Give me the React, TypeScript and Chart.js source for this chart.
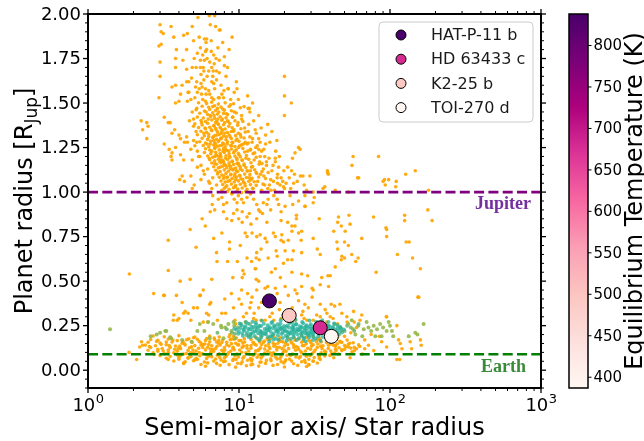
import { useEffect, useRef } from 'react';
import { Chart, registerables } from 'chart.js';

Chart.register(...registerables);

type Pt = [number, number];

// ---- axis setup ----
const xTickValues = [1, 10, 100, 1000];
const xTickExponents = ['0', '1', '2', '3'];
const yTickValues = [0, 0.25, 0.5, 0.75, 1.0, 1.25, 1.5, 1.75, 2.0];
const yTickLabels = ['0.00', '0.25', '0.50', '0.75', '1.00', '1.25', '1.50', '1.75', '2.00'];
const cbarTicks = [400, 450, 500, 550, 600, 650, 700, 750, 800];

// ---- reference radii (R_Jup) ----
const jupiterRadius = 1.0;
const earthRadius = 0.0892;

// ---- highlighted planets ----
const planetNames = ['HAT-P-11 b', 'HD 63433 c', 'K2-25 b', 'TOI-270 d'];
const planetA = [15.9, 34.5, 21.5, 40.9];
const planetR = [0.389, 0.238, 0.307, 0.19];
const planetTeq = [838, 680, 494, 387];
const teqMin = 387;
const teqMax = 838;

// ---- known exoplanets: [a / R*, R (R_Jup)] ----
const giantsUpper: Pt[] = [
  [3.0,1.94],[3.55,1.93],[4.9,1.93],[5.35,1.98],[6.35,1.99],[6.9,1.99],[6.45,1.94],[7.0,1.93],[7.5,1.91],[3.05,1.90],
  [3.15,1.89],[4.55,1.89],[4.3,1.88],[3.7,1.87],[5.45,1.87],[5.9,1.86],[6.1,1.86],[6.55,1.85],[6.05,1.84],[9.0,1.87],
  [2.95,1.82],[3.05,1.83],[3.85,1.80],[4.5,1.80],[5.55,1.81],[7.25,1.81],[6.1,1.80],[6.0,1.79],[5.75,1.77],[6.8,1.77],
  [8.0,1.76],[3.8,1.75],[4.25,1.74],[5.05,1.75],[5.55,1.74],[5.9,1.74],[6.15,1.75],[7.05,1.75],[7.4,1.74],[6.4,1.73],
  [6.85,1.72],[3.0,1.73],[3.8,1.70],[4.5,1.69],[4.9,1.70],[5.2,1.70],[5.55,1.70],[5.8,1.70],[5.85,1.68],[6.6,1.70],
  [6.75,1.68],[7.1,1.68],[7.4,1.67],[8.0,1.71],[8.4,1.70],[3.0,1.65],[4.85,1.64],[4.5,1.62],[4.65,1.62],[5.25,1.62],
  [5.6,1.61],[5.85,1.63],[6.15,1.65],[6.7,1.65],[6.6,1.62],[6.8,1.61],[3.8,1.60],[3.6,1.59],[4.2,1.60],[5.15,1.59],
  [5.45,1.58],[5.7,1.59],[6.0,1.58],[6.9,1.58],[7.95,1.57],[8.45,1.58],[4.65,1.56],[5.3,1.56],[5.65,1.55],[6.05,1.55],
  [6.4,1.55],[7.3,1.53],[2.95,1.53],[4.55,1.51],[4.8,1.52],[5.75,1.52],[6.0,1.51],[6.8,1.52],[7.4,1.53],[3.8,1.50],
  [7.4,1.91],[9.6,1.62],[9.7,1.58],[11.4,1.54],[11.7,1.47],[20.0,1.65],[20.0,1.54],[20.0,1.43],[22.2,1.50],[8.5,1.58],
  [10.4,1.43],[11.5,1.47],[5.1,1.53],[6.3,1.57],[7.7,1.55],[4.1,1.55],[6.55,1.79],[5.0,1.85],
  [6.6,1.53],[7.6,1.60],[8.2,1.65],[7.1,1.63],[6.3,1.68],[8.8,1.52],[9.3,1.56],[7.9,1.53],[5.6,1.66],[5.3,1.78],
  [8.6,1.80],[7.8,1.84],[4.6,1.56],
];

const giantsCore: Pt[] = [
  [5.4,1.502],[6.1,1.497],[6.6,1.505],[7.3,1.494],[8.1,1.501],[9.2,1.496],
  [5.7,1.482],[6.3,1.476],[6.9,1.485],[7.6,1.478],[8.6,1.481],[10.2,1.474],
  [5.2,1.462],[5.9,1.455],[6.4,1.464],[7.0,1.458],[7.8,1.466],[8.9,1.457],
  [5.5,1.443],[6.2,1.436],[6.7,1.445],[7.2,1.438],[7.9,1.442],[8.4,1.435],[9.6,1.444],
  [5.3,1.421],[5.8,1.416],[6.5,1.424],[6.9,1.414],[7.5,1.423],[8.2,1.417],[9.1,1.422],
  [5.6,1.402],[6.0,1.396],[6.6,1.405],[7.1,1.398],[7.7,1.404],[8.5,1.395],[9.4,1.401],[10.6,1.397],
  [5.1,1.383],[5.7,1.377],[6.2,1.386],[6.8,1.374],[7.3,1.382],[7.9,1.378],[8.7,1.385],[9.8,1.376],
  [5.4,1.362],[6.0,1.355],[6.4,1.364],[7.0,1.357],[7.5,1.363],[8.1,1.354],[9.0,1.361],[10.3,1.356],
  [5.6,1.342],[6.1,1.336],[6.6,1.345],[7.2,1.338],[7.7,1.343],[8.4,1.335],[9.2,1.341],[11.0,1.337],
  [5.3,1.322],[5.9,1.316],[6.3,1.325],[6.9,1.318],[7.4,1.323],[7.9,1.314],[8.6,1.321],[9.5,1.317],[10.2,1.324],
  [5.7,1.302],[6.2,1.296],[6.7,1.305],[7.1,1.297],[7.6,1.303],[8.2,1.294],[8.9,1.301],[9.7,1.298],[10.8,1.304],
  [5.5,1.283],[6.0,1.276],[6.5,1.285],[6.9,1.277],[7.3,1.284],[7.8,1.275],[8.4,1.282],[9.1,1.278],[10.0,1.285],[11.5,1.276],
  [5.8,1.262],[6.3,1.255],[6.8,1.264],[7.2,1.257],[7.7,1.263],[8.1,1.254],[8.8,1.261],[9.4,1.256],[10.4,1.265],
  [6.0,1.243],[6.4,1.236],[6.9,1.245],[7.4,1.237],[7.9,1.244],[8.3,1.235],[8.9,1.242],[9.6,1.238],[10.6,1.245],[11.9,1.236],
  [5.9,1.222],[6.5,1.216],[7.0,1.224],[7.5,1.217],[8.0,1.223],[8.6,1.215],[9.2,1.221],[9.9,1.218],[10.9,1.225],[12.4,1.216],
  [6.2,1.203],[6.7,1.196],[7.1,1.205],[7.6,1.197],[8.2,1.204],[8.7,1.195],[9.4,1.202],[10.2,1.198],[11.2,1.205],[13.0,1.196],
  [6.4,1.182],[6.9,1.176],[7.3,1.185],[7.8,1.177],[8.4,1.183],[9.0,1.175],[9.7,1.181],[10.5,1.178],[11.6,1.184],
  [6.6,1.163],[7.1,1.156],[7.6,1.165],[8.0,1.157],[8.6,1.164],[9.2,1.155],[9.9,1.162],[10.8,1.158],[12.0,1.165],[13.6,1.156],
  [6.8,1.142],[7.3,1.136],[7.8,1.145],[8.3,1.137],[8.8,1.143],[9.5,1.135],[10.2,1.141],[11.1,1.138],[12.3,1.144],
  [7.0,1.123],[7.5,1.116],[8.0,1.125],[8.5,1.117],[9.1,1.124],[9.8,1.115],[10.5,1.122],[11.4,1.118],[12.7,1.125],[14.2,1.116],
  [7.2,1.102],[7.7,1.096],[8.2,1.105],[8.8,1.097],[9.4,1.103],[10.1,1.095],[10.9,1.101],[11.8,1.098],[13.1,1.104],
  [7.4,1.083],[7.9,1.076],[8.4,1.085],[9.0,1.077],[9.6,1.084],[10.3,1.075],[11.2,1.082],[12.2,1.078],[13.5,1.085],[15.0,1.076],
  [7.6,1.062],[8.1,1.056],[8.7,1.065],[9.3,1.057],[9.9,1.063],[10.7,1.055],[11.6,1.061],[12.6,1.058],
  [7.8,1.043],[8.3,1.036],[8.9,1.045],[9.5,1.037],[10.2,1.044],[11.0,1.035],[11.9,1.042],[13.0,1.038],[14.4,1.045],
  [8.0,1.022],[8.6,1.016],[9.2,1.025],[9.8,1.017],[10.5,1.023],[11.3,1.015],[12.3,1.021],
  [8.4,1.003],[9.0,0.996],[9.7,1.005],[10.4,0.997],[11.1,1.004],[12.0,0.995],
  [6.75,1.31],[7.35,1.29],[7.95,1.27],[6.95,1.25],[7.55,1.21],[8.15,1.19],[7.05,1.35],[7.65,1.33],[8.25,1.31],[6.45,1.27],
  [8.55,1.23],[9.05,1.17],[8.75,1.13],[7.45,1.17],[9.35,1.09],[8.05,1.39],[6.85,1.43],[7.25,1.41],[10.0,1.15],[10.6,1.07],
  [9.65,1.19],[9.95,1.25],[12.2,1.28],[13.2,1.26],[11.8,1.31],[12.6,1.18],[14.5,1.13],[13.9,1.10],[15.5,1.02],[11.3,1.27],
];

const giantsFill: Pt[] = [
  [5.25,1.47],[5.65,1.39],[5.85,1.33],[6.05,1.45],[6.15,1.27],[6.25,1.41],[6.35,1.19],[6.55,1.35],[6.6,1.23],[6.7,1.48],
  [6.8,1.29],[6.9,1.16],[7.0,1.39],[7.05,1.21],[7.15,1.32],[7.25,1.11],[7.35,1.45],[7.45,1.26],[7.5,1.14],[7.55,1.36],
  [7.65,1.18],[7.75,1.41],[7.85,1.23],[7.95,1.09],[8.05,1.33],[8.15,1.15],[8.25,1.44],[8.35,1.27],[8.45,1.06],[8.55,1.37],
  [8.65,1.2],[8.75,1.31],[8.85,1.1],[8.95,1.26],[9.05,1.42],[9.15,1.13],[9.25,1.35],[9.35,1.23],[9.45,1.03],[9.55,1.29],
  [9.7,1.16],[9.85,1.39],[10.0,1.21],[10.15,1.09],[10.3,1.31],[10.5,1.18],[10.7,1.27],[10.9,1.05],[11.1,1.19],[11.3,1.12],
  [11.5,1.34],[11.7,1.08],[11.9,1.24],[12.1,1.14],[12.4,1.02],[12.7,1.22],[13.0,1.11],[13.3,1.06],[13.7,1.17],[14.1,1.01],
  [14.6,1.09],[15.2,1.15],[15.9,1.04],[16.5,1.12],[17.2,1.01],[18.0,1.1],[5.95,1.36],[6.45,1.43],[6.85,1.37],[7.2,1.47],
  [7.6,1.3],[8.0,1.46],[8.4,1.4],[8.8,1.49],[9.3,1.45],[9.9,1.33],[10.4,1.41],[11.0,1.28],[11.6,1.38],[12.3,1.3],
  [6.2,1.13],[6.7,1.08],[7.1,1.04],[7.7,1.01],[8.2,1.03],[6.4,1.05],[5.8,1.12],[5.5,1.2],[5.2,1.34],[5.0,1.41],
  [7.0,1.27],[7.4,1.2],[7.8,1.35],[8.1,1.24],[8.6,1.15],[9.0,1.28],[9.6,1.12],[10.1,1.26],[10.8,1.15],[11.4,1.23],
  [6.3,1.31],[6.9,1.2],[7.3,1.38],[7.9,1.17],[8.3,1.08],[8.9,1.34],[9.5,1.07],[10.2,1.13],[10.9,1.36],[12.0,1.07],
  [13.5,1.24],[14.8,1.2],[16.2,1.07],[19.0,1.08],[20.5,1.05],[17.5,1.23],[15.0,1.27],[13.0,1.33],[12.5,1.4],[14.0,1.36],
  [4.9,1.45],[5.0,1.37],[4.7,1.40],[5.1,1.26],[5.3,1.14],[5.6,1.07],[12.8,1.35],[13.8,1.28],[14.6,1.24],[15.8,1.19],
  [16.8,1.15],[18.5,1.20],[19.8,1.12],[21.5,1.08],[17.8,1.29],[16.5,1.34],[11.8,1.45],[10.8,1.48],[9.9,1.52],[12.3,1.50],
  [13.5,1.43],[15.5,1.38],[18.0,1.05],[22.0,1.02],[14.2,1.16],[11.9,1.12],
];

const giantsSide: Pt[] = [
  [2.25,1.40],[2.45,1.39],[2.5,1.37],[2.3,1.35],[2.45,1.30],[3.2,1.42],[3.4,1.39],[3.5,1.39],[4.0,1.51],[3.6,1.33],
  [3.75,1.35],[3.2,1.27],[3.45,1.24],[3.6,1.22],[3.55,1.20],[3.6,1.18],[3.8,1.25],[4.1,1.21],[4.3,1.18],[4.05,1.07],
  [4.35,1.06],[4.2,1.09],[4.8,1.09],[5.05,1.04],[4.9,1.02],[4.1,1.30],[4.0,1.32],[4.35,1.28],[4.5,1.31],[4.55,1.28],
  [4.8,1.24],[5.0,1.29],[5.25,1.28],[5.3,1.23],[4.9,1.18],[5.6,1.15],[5.9,1.10],[6.3,1.06],[6.6,1.02],[5.4,1.20],
  [17.4,1.19],[24.8,1.25],[23.5,1.22],[22.6,1.19],[22.3,1.12],[23.3,1.10],[26.5,1.09],[29.5,1.09],[25.5,1.09],[23.0,1.05],
  [24.3,1.06],[38.5,1.12],[39.0,1.10],[37.0,1.03],[56.0,1.15],[57.0,1.20],[62.0,1.08],[84.0,1.20],[92.0,1.07],[98.0,1.07],
  [110,1.06],[109,1.03],[127,1.10],[147,1.12],[12.9,1.25],[14.1,1.23],[13.8,1.20],[15.2,1.17],[17.4,1.17],[18.3,1.14],
  [15.6,1.11],[16.9,1.06],[18.7,1.04],[19.7,1.03],[14.8,1.04],[19.5,1.06],[17.9,1.08],[38.6,1.11],[61.0,1.08],[90.0,1.06],
  [93.0,1.04],[180,1.01],[31.0,1.00],[25.4,1.24],[53.0,1.00],[43.4,1.01],[36.0,1.02],[28.0,1.01],[16.0,1.28],[15.0,1.32],
  [13.5,1.30],[21.0,1.14],[20.0,1.02],[16.3,1.01],[27.0,1.04],
];

const warmPlanets: Pt[] = [
  [3.4,0.73],[1.88,0.54],[3.4,0.56],[4.75,0.79],[5.2,0.69],[5.98,0.81],[5.7,0.85],[6.45,0.89],[6.9,0.90],[6.65,0.93],
  [6.7,0.98],[6.8,0.74],[7.1,0.66],[7.15,0.61],[7.7,0.77],[7.9,0.89],[8.3,0.85],[8.65,0.72],[8.65,0.68],[8.4,0.61],
  [8.95,0.84],[9.2,0.88],[9.7,0.90],[9.75,0.61],[9.95,0.85],[10.5,0.83],[11.0,0.77],[11.3,0.75],[12.2,0.77],[11.3,0.63],
  [12.1,0.61],[13.1,0.75],[13.1,0.66],[13.0,0.63],[10.6,0.56],[10.8,0.54],[10.5,0.52],[9.1,0.52],[6.6,0.51],[4.75,0.51],
  [13.0,0.51],[12.9,0.57],[4.08,0.50],[7.3,0.96],[7.7,0.97],[7.9,0.93],[8.3,0.94],[8.95,0.99],[9.3,0.96],[9.7,0.94],
  [9.9,0.98],[10.4,0.96],[10.7,0.94],[11.3,0.97],[11.9,0.99],[12.5,0.96],[13.1,0.93],[13.5,0.90],[10.5,0.89],[11.7,0.88],
  [11.3,0.86],[13.8,0.89],[14.5,0.94],[15.3,0.93],[15.6,0.96],[17.9,0.96],[18.3,0.93],[20.2,0.92],[21.8,0.98],[22.7,0.93],
  [24.8,0.95],[27.3,0.92],[31.0,0.94],[31.5,0.97],[27.3,0.98],[13.1,0.85],[14.3,0.88],[15.3,0.83],[19.0,0.89],[19.0,0.84],
  [21.0,0.83],[22.4,0.81],[24.0,0.87],[24.0,0.85],[13.8,0.76],[14.9,0.74],[15.3,0.72],[16.9,0.77],[17.4,0.75],[19.2,0.76],
  [19.0,0.73],[19.7,0.72],[21.2,0.73],[22.4,0.78],[24.8,0.77],[26.0,0.78],[23.5,0.81],[25.8,0.73],[31.0,0.74],[33.0,0.68],
  [34.5,0.65],[34.0,0.85],[13.6,0.62],[15.6,0.63],[17.6,0.67],[17.9,0.64],[20.2,0.67],[21.0,0.62],[22.9,0.67],[26.0,0.66],
  [22.4,0.62],[19.7,0.60],[17.4,0.57],[22.4,0.55],[26.0,0.54],[28.5,0.53],[35.3,0.52],[38.8,0.53],[39.2,0.47],[34.5,0.48],
  [30.5,0.46],[26.0,0.47],[23.5,0.45],[20.2,0.47],[17.4,0.46],[14.9,0.46],[13.5,0.50],[12.8,0.57],[45.6,0.86],[53.5,0.87],
  [45.0,0.83],[47.6,0.81],[54.4,0.82],[42.4,0.78],[50.5,0.78],[44.5,0.72],[50.0,0.72],[53.0,0.70],[45.0,0.68],[48.0,0.64],
  [50.0,0.63],[47.6,0.62],[55.8,0.65],[61.5,0.63],[59.3,0.61],[43.4,0.58],[65.0,0.74],[77.8,0.86],[94.0,0.80],[95.0,0.79],
  [95.0,0.75],[125,0.87],[125,0.84],[128,0.72],[134,0.72],[112,0.65],[141,0.63],[159,0.57],[81.0,0.55],[40.2,0.53],
  [27.4,0.92],[178,0.90],[190,0.84],[16.2,0.90],[17.0,0.98],[12.0,0.82],[10.2,0.70],[14.0,0.68],[16.4,0.55],[18.8,0.52],
];

const smallUpper: Pt[] = [
  [3.2,0.42],[3.85,0.42],[4.2,0.38],[4.4,0.33],[3.7,0.31],[3.67,0.28],[4.0,0.29],[4.6,0.32],[4.8,0.28],[5.5,0.42],
  [5.8,0.45],[5.3,0.35],[6.4,0.37],[6.5,0.38],[6.1,0.32],[6.3,0.31],[5.8,0.27],[6.2,0.27],[7.7,0.32],[8.15,0.32],
  [8.9,0.43],[10.0,0.40],[10.4,0.37],[11.4,0.43],[10.4,0.45],[12.0,0.38],[11.2,0.32],[10.7,0.30],[12.6,0.32],[13.0,0.28],
  [9.4,0.28],[7.2,0.28],[8.05,0.40],[2.72,0.43],[3.17,0.42],[5.55,0.42],[5.0,0.35],[4.3,0.32],[3.9,0.28],[13.1,0.45],
  [14.1,0.38],[13.5,0.35],[17.9,0.43],[18.7,0.38],[21.2,0.42],[24.2,0.43],[24.8,0.39],[27.3,0.37],[28.8,0.35],[30.5,0.41],
  [31.0,0.45],[34.5,0.37],[37.2,0.34],[38.2,0.32],[40.8,0.37],[43.0,0.36],[46.6,0.37],[48.0,0.32],[40.2,0.30],[51.8,0.30],
  [57.4,0.33],[65.0,0.31],[63.3,0.28],[58.0,0.27],[94.5,0.30],[153,0.41],[28.2,0.28],[34.5,0.30],[16.6,0.32],[17.0,0.28],
  [14.9,0.28],[26.0,0.31],[32.7,0.31],[23.6,0.28],[20.4,0.29],[18.5,0.34],[15.5,0.47],[16.5,0.36],[19.5,0.31],[22.5,0.35],
  [26.5,0.33],[12.2,0.41],[9.2,0.35],[11.8,0.35],[95.0,0.30],[111,0.25],[155,0.41],
  [9.5,0.26],[11.0,0.27],[14.0,0.28],[38.0,0.27],[45.0,0.26],[52.0,0.27],[60.0,0.24],[48.0,0.22],[50.0,0.19],[55.0,0.21],
  [12.5,0.29],[16.0,0.30],[19.0,0.29],[22.0,0.27],[27.0,0.29],[31.0,0.28],[35.0,0.27],[42.0,0.29],[8.7,0.20],[9.2,0.19],
];

const smallBand: Pt[] = [
  [2.7,0.192],[3.2,0.188],[4.0,0.194],[5.1,0.186],[6.4,0.191],[8.6,0.188],[11.5,0.193],[14,0.187],[17,0.19],[21,0.186],[26,0.193],[31,0.188],[38,0.191],[45,0.187],
  [2.6,0.172],[2.9,0.168],[3.4,0.175],[3.9,0.166],[4.5,0.171],[5.3,0.174],[6.0,0.167],[6.9,0.173],[7.8,0.169],[9.0,0.175],[10.3,0.166],[12.0,0.172],[13.8,0.168],[16,0.174],[18.5,0.167],[21.5,0.171],[25,0.175],[29,0.168],[33,0.172],[38,0.166],[44,0.173],[52,0.169],
  [2.5,0.157],[3.0,0.152],[3.6,0.158],[4.2,0.151],[4.9,0.156],[5.6,0.153],[6.4,0.159],[7.3,0.152],[8.3,0.157],[9.5,0.151],[10.9,0.158],[12.5,0.153],[14.5,0.156],[16.8,0.152],[19.5,0.159],[22.5,0.151],[26,0.157],[30,0.153],[35,0.158],[41,0.152],[48,0.156],[57,0.154],
  [2.4,0.141],[2.8,0.137],[3.3,0.143],[3.8,0.136],[4.4,0.142],[5.1,0.138],[5.8,0.144],[6.6,0.137],[7.5,0.142],[8.6,0.136],[9.8,0.143],[11.3,0.138],[13.0,0.141],[15.0,0.137],[17.3,0.144],[20,0.136],[23,0.142],[27,0.138],[31,0.143],[36,0.137],[42,0.141],[50,0.138],[62,0.142],
  [2.6,0.127],[3.1,0.122],[3.5,0.128],[4.1,0.121],[4.7,0.126],[5.4,0.123],[6.2,0.129],[7.0,0.122],[8.0,0.127],[9.1,0.121],[10.5,0.128],[12.0,0.123],[13.9,0.126],[16,0.122],[18.5,0.129],[21.3,0.121],[24.5,0.127],[28.5,0.123],[33,0.128],[39,0.122],[46,0.126],[55,0.124],
  [2.5,0.112],[2.9,0.107],[3.4,0.113],[3.9,0.106],[4.6,0.111],[5.2,0.108],[6.0,0.114],[6.8,0.107],[7.7,0.112],[8.8,0.106],[10.1,0.113],[11.6,0.108],[13.4,0.111],[15.5,0.107],[17.8,0.114],[20.5,0.106],[23.7,0.112],[27.5,0.108],[32,0.113],[37,0.107],[44,0.111],
  [2.7,0.097],[3.2,0.092],[3.7,0.098],[4.3,0.091],[5.0,0.096],[5.7,0.093],[6.5,0.099],[7.4,0.092],[8.5,0.097],[9.7,0.091],[11.1,0.098],[12.8,0.093],[14.8,0.096],[17,0.092],[19.6,0.099],[22.6,0.091],[26,0.097],[30.5,0.093],[35,0.098],[41,0.092],
  [3.0,0.082],[3.5,0.077],[4.1,0.083],[4.8,0.076],[5.5,0.081],[6.3,0.078],[7.2,0.084],[8.2,0.077],[9.4,0.082],[10.8,0.076],[12.4,0.083],[14.3,0.078],[16.5,0.081],[19,0.077],[22,0.084],[25.5,0.076],[29.5,0.082],[34,0.078],[40,0.083],
  [3.3,0.067],[4.0,0.062],[4.6,0.068],[5.3,0.061],[6.1,0.066],[7.0,0.063],[8.0,0.069],[9.2,0.062],[10.6,0.067],[12.2,0.061],[14,0.068],[16.2,0.063],[18.7,0.066],[21.6,0.062],[25,0.069],[29,0.061],[34,0.067],
  [3.7,0.052],[4.4,0.047],[5.0,0.053],[5.9,0.046],[6.8,0.051],[7.9,0.048],[9.1,0.054],[10.5,0.047],[12.1,0.052],[14,0.046],[16.3,0.053],[19,0.048],[22.3,0.051],[26,0.047],[31,0.052],
  [4.3,0.037],[5.6,0.032],[7.1,0.038],[8.6,0.031],[10.3,0.036],[12.3,0.033],[15,0.038],[18,0.032],[23,0.036],[29,0.031],
  [6.0,0.022],[9.5,0.017],[13.5,0.023],[20,0.018],[28,0.021],
  [3.05,0.145],[3.75,0.118],[4.25,0.162],[4.85,0.131],[5.45,0.099],[5.95,0.147],[6.7,0.118],[7.1,0.158],[7.9,0.104],[8.9,0.149],
  [9.3,0.115],[10.0,0.166],[10.7,0.135],[11.8,0.088],[12.7,0.146],[13.6,0.117],[14.7,0.163],[15.8,0.132],[16.9,0.098],[18.1,0.151],
  [19.3,0.121],[20.8,0.084],[22.1,0.159],[23.9,0.133],[25.6,0.105],[27.9,0.148],[29.8,0.118],[32.5,0.161],[34.8,0.135],[37.5,0.102],
  [40.5,0.147],[43.5,0.119],[47,0.158],[51,0.131],[56,0.103],[5.0,0.182],[6.1,0.178],[7.4,0.186],[9.6,0.181],[12.9,0.184],
  [15.4,0.179],[18.7,0.183],[23.3,0.18],[28,0.185],[34,0.179],[41,0.182],[4.0,0.072],[5.1,0.058],[6.6,0.075],[7.6,0.057],
  [9.9,0.074],[11.4,0.056],[13.2,0.073],[15.2,0.055],[17.5,0.072],[20.4,0.058],[23.8,0.074],[27.2,0.056],[31.5,0.071],[2.9,0.118],
  [2.75,0.088],[3.4,0.101],[3.9,0.085],[4.5,0.094],[37,0.08],[43,0.096],[48,0.115],[53,0.145],[58,0.128],
  [88,0.16],[95,0.13],[114,0.17],[117,0.15],[120,0.12],[136,0.16],[139,0.12],[159,0.17],[161,0.14],[111,0.06],
  [116,0.06],[78,0.11],[72,0.14],[60,0.12],[65.5,0.09],[54.4,0.07],[29,0.03],[31,0.05],[20.2,0.05],[34.5,0.06],
  [42.4,0.07],[45.6,0.09],[48,0.11],[53,0.13],[43.4,0.14],[1.87,0.10],[2.1,0.06],[2.26,0.16],[2.3,0.14],[2.2,0.13],
  [3.4,0.06],[4.3,0.04],[8.1,0.05],[12,0.03],[4.6,0.07],[68,0.17],[75,0.20],[85,0.19],
];

const bandFill: Pt[] = [
  [2.55,0.133],[2.85,0.162],[3.15,0.108],[3.45,0.138],[3.65,0.169],[3.95,0.121],[4.15,0.089],[4.35,0.148],[4.65,0.176],[4.95,0.113],
  [5.2,0.067],[5.45,0.161],[5.75,0.128],[6.05,0.087],[6.3,0.144],[6.55,0.103],[6.85,0.181],[7.15,0.134],[7.45,0.071],[7.7,0.155],
  [8.05,0.113],[8.4,0.088],[8.75,0.171],[9.15,0.128],[9.55,0.061],[9.95,0.142],[10.4,0.101],[10.85,0.177],[11.3,0.123],[11.9,0.065],
  [12.4,0.157],[12.9,0.109],[13.5,0.085],[14.1,0.144],[14.8,0.119],[15.5,0.172],[16.2,0.096],[17.0,0.135],[17.9,0.063],[18.9,0.162],
  [19.9,0.113],[21.0,0.143],[22.2,0.088],[23.5,0.168],[24.8,0.118],[26.3,0.138],[27.9,0.078],[29.6,0.162],[31.4,0.103],[33.3,0.147],
  [35.5,0.121],[38.0,0.155],[40.5,0.108],[43.5,0.135],[46.5,0.162],[50.0,0.117],[54.0,0.151],[58.0,0.109],[63.0,0.133],[68,0.12],
  [3.3,0.158],[4.05,0.135],[4.8,0.098],[5.6,0.141],[6.45,0.119],[7.35,0.167],[8.3,0.142],[9.3,0.174],[10.6,0.152],[12.0,0.138],
  [13.7,0.158],[15.7,0.148],[17.8,0.128],[20.3,0.152],[23.1,0.128],[26.5,0.163],[30.2,0.135],[34.4,0.168],[39.2,0.14],[44.8,0.148],
  [6.2,0.041],[7.5,0.028],[9.8,0.039],[11.2,0.025],[13.8,0.044],[16.8,0.027],[19.8,0.041],[24.5,0.027],[27.5,0.043],[33,0.04],
];

// sub-Neptunes of the second sample, split by colour shade
const tealPlanets: Pt[] = [
  [13,0.257],[15.5,0.252],[18,0.258],[21,0.251],[24,0.256],[28,0.253],[33,0.258],[38,0.252],
  [11,0.247],[12.5,0.242],[14,0.248],[16,0.241],[18.5,0.246],[20.5,0.243],[23,0.249],[26,0.242],[29.5,0.247],[33,0.241],[37,0.246],[42,0.243],
  [10.2,0.237],[11.5,0.232],[13,0.238],[14.8,0.231],[16.8,0.236],[19,0.233],[21.5,0.239],[24.2,0.232],[27,0.237],[30.5,0.231],[34.5,0.238],[39,0.233],[45,0.236],
  [9.6,0.227],[10.8,0.222],[12.2,0.228],[13.8,0.221],[15.6,0.226],[17.6,0.223],[19.8,0.229],[22.4,0.222],[25,0.227],[28,0.221],[31.5,0.228],[35.5,0.223],[40,0.226],[46,0.222],
  [10.0,0.217],[11.3,0.212],[12.8,0.218],[14.4,0.211],[16.2,0.216],[18.2,0.213],[20.6,0.219],[23.2,0.212],[26,0.217],[29.2,0.211],[33,0.218],[37,0.213],[42,0.216],[48,0.212],
  [10.5,0.207],[11.9,0.202],[13.4,0.208],[15.1,0.201],[17,0.206],[19.2,0.203],[21.7,0.209],[24.4,0.202],[27.5,0.207],[31,0.201],[35,0.208],[40,0.203],
  [11.2,0.197],[12.7,0.192],[14.3,0.198],[16.1,0.191],[18.1,0.196],[20.4,0.193],[23,0.199],[26,0.192],[29.5,0.197],[33.5,0.191],[38,0.196],
  [12,0.187],[14,0.182],[16.5,0.188],[19.5,0.181],[23,0.186],[27,0.183],[31,0.188],
  [11.7,0.229],[13.4,0.24],[15.2,0.219],[17.3,0.244],[19.5,0.211],[22.8,0.235],[25.7,0.204],[27.8,0.246],[30,0.216],[32,0.233],
  [36.2,0.209],[13.9,0.202],[17.9,0.23],[21.2,0.2],[24.6,0.224],[28.7,0.197],[34,0.226],[12.4,0.212],[10.9,0.238],[38.5,0.219],
  [10.4,0.252],[11.4,0.262],[12.1,0.244],[12.9,0.266],[13.7,0.25],[14.6,0.261],[15.3,0.235],[16.4,0.265],[17.1,0.251],[18.8,0.262],
  [19.9,0.248],[21.8,0.265],[22.6,0.243],[23.8,0.26],[25.3,0.247],[26.6,0.264],[28.4,0.238],[29.9,0.258],[31.2,0.244],[32.8,0.264],
  [34.9,0.25],[36.5,0.261],[39.8,0.247],[41.5,0.237],[43.5,0.228],[44.8,0.208],[47.5,0.232],[11.6,0.186],[13.2,0.178],[15.6,0.185],
  [17.6,0.177],[20.9,0.184],[22.1,0.176],[24.9,0.181],[26.8,0.175],[29.1,0.183],[32.2,0.178],[35.8,0.186],[10.7,0.228],[12.0,0.205],
  [13.1,0.224],[14.0,0.215],[14.9,0.206],[15.9,0.232],[16.7,0.199],[17.8,0.219],[18.7,0.228],[19.3,0.24],[20.1,0.222],[21.1,0.214],
  [22.0,0.206],[22.9,0.227],[23.9,0.218],[25.5,0.236],[26.4,0.21],[27.3,0.226],[28.2,0.204],[29.7,0.232],[30.8,0.21],[31.9,0.219],
  [33.6,0.205],[34.6,0.215],[36.4,0.23],[37.8,0.204],[39.5,0.214],[41.2,0.225],[9.9,0.205],[9.3,0.232],[10.6,0.193],[43,0.2],
  [12.3,0.272],[14.2,0.278],[16.6,0.271],[18.9,0.281],[21.4,0.274],[23.7,0.283],[26.2,0.27],[29.3,0.279],[32.4,0.272],[35.6,0.281],
  [39.1,0.27],[13.6,0.168],[15.9,0.162],[18.3,0.171],[20.7,0.165],[24.1,0.169],[27.6,0.163],[30.9,0.17],[34.7,0.166],[38.8,0.172],
  [11.1,0.27],[10.1,0.262],[42.6,0.262],[44.9,0.252],[46.8,0.243],[49.5,0.228],[16.9,0.173],[22.5,0.268],
];

const midGreenPlanets: Pt[] = [
  [8.3,0.23],[9.0,0.21],[9.8,0.24],[10.3,0.26],[43,0.26],[47,0.24],[50,0.22],[52,0.25],[46,0.20],[41,0.19],
  [55,0.24],[58,0.22],[62,0.26],[7.2,0.21],[11.8,0.26],[44,0.215],[39,0.25],[9.4,0.205],
];

const olivePlanets: Pt[] = [
  [1.4,0.23],[2.85,0.20],[3.0,0.21],[3.3,0.22],[3.55,0.18],[4.85,0.16],[5.3,0.22],[5.5,0.26],[5.9,0.22],[6.25,0.27],
  [6.4,0.18],[6.75,0.26],[7.6,0.25],[7.65,0.24],[7.9,0.18],[8.1,0.24],[8.5,0.26],[8.9,0.22],[9.2,0.27],[9.3,0.25],
  [9.4,0.18],[53,0.26],[57,0.23],[61.6,0.25],[67,0.23],[72,0.24],[75,0.22],[82,0.23],[86,0.26],[90,0.24],
  [95,0.22],[100,0.25],[103,0.22],[105,0.19],[88,0.19],[80,0.19],[133,0.19],[147,0.21],[152,0.20],[167,0.26],
  [59,0.20],[65.5,0.19],[55.8,0.28],[4.2,0.17],[2.6,0.19],[70,0.27],[78,0.25],[98,0.27],[3.25,0.22],[3.5,0.185],
];

// ---- colour map (RdPu) ----
const RDPU = ['#fff7f3', '#fde0dd', '#fcc5c0', '#fa9fb5', '#f768a1', '#dd3497', '#ae017e', '#7a0177', '#49006a'];

function hexToRgb(h: string): number[] {
  return [parseInt(h.slice(1, 3), 16), parseInt(h.slice(3, 5), 16), parseInt(h.slice(5, 7), 16)];
}

function rdpu(t: number): string {
  const c = Math.min(1, Math.max(0, t));
  const s = c * (RDPU.length - 1);
  const i = Math.min(Math.floor(s), RDPU.length - 2);
  const f = s - i;
  const a = hexToRgb(RDPU[i]);
  const b = hexToRgb(RDPU[i + 1]);
  const m = a.map((v, k) => Math.round(v + (b[k] - v) * f));
  return `rgb(${m[0]},${m[1]},${m[2]})`;
}

const teqColor = (t: number) => rdpu((t - teqMin) / (teqMax - teqMin));

const toXY = (arr: Pt[]) => arr.map(([x, y]) => ({ x, y }));

const FONT = '"DejaVu Sans"';

const decorPlugin = {
  id: 'decor',
  afterDraw(chart: any) {
    const { ctx, chartArea: ca, scales } = chart;
    const xs = scales.x;
    const ys = scales.y;
    ctx.save();

    const seg = (x1: number, y1: number, x2: number, y2: number, w: number) => {
      ctx.lineWidth = w;
      ctx.beginPath();
      ctx.moveTo(x1, y1);
      ctx.lineTo(x2, y2);
      ctx.stroke();
    };
    ctx.strokeStyle = '#000';

    // x ticks (outward, top and bottom)
    for (let d = 0; d < xTickValues.length - 1; d++) {
      for (let m = 2; m <= 9; m++) {
        const px = xs.getPixelForValue(xTickValues[d] * m);
        seg(px, ca.bottom, px, ca.bottom + 3, 1);
        seg(px, ca.top, px, ca.top - 3, 1);
      }
    }
    xTickValues.forEach((v) => {
      const px = xs.getPixelForValue(v);
      seg(px, ca.bottom, px, ca.bottom + 5, 1.3);
      seg(px, ca.top, px, ca.top - 5, 1.3);
    });
    // y ticks (outward, left and right)
    for (let k = -2; k <= 40; k++) {
      if (k % 5 === 0 && k >= 0) continue;
      const py = ys.getPixelForValue(k * 0.05);
      seg(ca.left, py, ca.left - 3, py, 1);
      seg(ca.right, py, ca.right + 3, py, 1);
    }
    yTickValues.forEach((v) => {
      const py = ys.getPixelForValue(v);
      seg(ca.left, py, ca.left - 5, py, 1.3);
      seg(ca.right, py, ca.right + 5, py, 1.3);
    });

    // frame
    ctx.lineWidth = 2;
    ctx.strokeRect(ca.left, ca.top, ca.right - ca.left, ca.bottom - ca.top);

    // tick labels
    ctx.fillStyle = '#000';
    ctx.font = `18px ${FONT}`;
    ctx.textAlign = 'right';
    ctx.textBaseline = 'middle';
    yTickValues.forEach((v, i) => {
      ctx.fillText(yTickLabels[i], ca.left - 7, ys.getPixelForValue(v) + 1);
    });
    ctx.textBaseline = 'alphabetic';
    ctx.textAlign = 'left';
    xTickValues.forEach((v, i) => {
      const px = xs.getPixelForValue(v);
      ctx.font = `18px ${FONT}`;
      const wBase = ctx.measureText('10').width;
      ctx.font = `13px ${FONT}`;
      const wExp = ctx.measureText(xTickExponents[i]).width;
      const x0 = px - (wBase + wExp) / 2;
      ctx.font = `18px ${FONT}`;
      ctx.fillText('10', x0, ca.bottom + 23);
      ctx.font = `13px ${FONT}`;
      ctx.fillText(xTickExponents[i], x0 + wBase + 0.5, ca.bottom + 15);
    });

    // axis titles
    ctx.font = `24px ${FONT}`;
    ctx.textAlign = 'center';
    ctx.fillText('Semi-major axis/ Star radius', (ca.left + ca.right) / 2, 435);

    const yMid = (ca.top + ca.bottom) / 2;
    ctx.save();
    ctx.translate(31.5, yMid);
    ctx.rotate(-Math.PI / 2);
    ctx.textAlign = 'left';
    ctx.font = `24px ${FONT}`;
    const p1 = 'Planet radius [R';
    const w1 = ctx.measureText(p1).width;
    const w3 = ctx.measureText(']').width;
    ctx.font = `17px ${FONT}`;
    const w2 = ctx.measureText('Jup').width;
    let cx = -(w1 + w2 + w3) / 2;
    ctx.font = `24px ${FONT}`;
    ctx.fillText(p1, cx, 0);
    cx += w1;
    ctx.font = `17px ${FONT}`;
    ctx.fillText('Jup', cx, 5);
    cx += w2;
    ctx.font = `24px ${FONT}`;
    ctx.fillText(']', cx, 0);
    ctx.restore();

    // reference line labels
    ctx.textAlign = 'right';
    ctx.font = 'bold 18px "Liberation Serif"';
    ctx.fillStyle = '#7530a0';
    ctx.fillText('Jupiter', ca.right - 10, ys.getPixelForValue(jupiterRadius) + 17);
    ctx.fillStyle = '#3a8a3a';
    ctx.fillText('Earth', ca.right - 15, ys.getPixelForValue(earthRadius) + 18);

    // legend
    const lx = 379;
    const ly = 22;
    const lw = 154;
    const lh = 100;
    ctx.beginPath();
    ctx.roundRect(lx, ly, lw, lh, 4);
    ctx.fillStyle = 'rgba(255,255,255,0.85)';
    ctx.fill();
    ctx.strokeStyle = '#cccccc';
    ctx.lineWidth = 1;
    ctx.stroke();
    ctx.font = `16px ${FONT}`;
    ctx.textAlign = 'left';
    ctx.textBaseline = 'middle';
    planetNames.forEach((name, i) => {
      const ry = 35 + i * 24.2;
      ctx.beginPath();
      ctx.arc(401, ry, 5, 0, Math.PI * 2);
      ctx.fillStyle = teqColor(planetTeq[i]);
      ctx.fill();
      ctx.strokeStyle = '#000';
      ctx.lineWidth = 1;
      ctx.stroke();
      ctx.fillStyle = '#1a1a1a';
      ctx.fillText(name, 431, ry + 1);
    });

    // colour bar
    const cbL = 569;
    const cbR = 588;
    const cbT = ca.top;
    const cbB = ca.bottom;
    const grad = ctx.createLinearGradient(0, cbB, 0, cbT);
    RDPU.forEach((c, i) => grad.addColorStop(i / (RDPU.length - 1), c));
    ctx.fillStyle = grad;
    ctx.fillRect(cbL, cbT, cbR - cbL, cbB - cbT);
    ctx.strokeStyle = '#000';
    ctx.lineWidth = 1.5;
    ctx.strokeRect(cbL, cbT, cbR - cbL, cbB - cbT);
    ctx.fillStyle = '#000';
    ctx.font = `15px ${FONT}`;
    ctx.textAlign = 'left';
    ctx.textBaseline = 'middle';
    cbarTicks.forEach((t) => {
      const py = cbB - ((t - teqMin) / (teqMax - teqMin)) * (cbB - cbT);
      seg(cbR, py, cbR + 3.5, py, 1);
      ctx.fillText(String(t), cbR + 5.5, py + 1);
    });
    ctx.save();
    ctx.translate(642, (cbT + cbB) / 2);
    ctx.rotate(-Math.PI / 2);
    ctx.textAlign = 'center';
    ctx.textBaseline = 'alphabetic';
    ctx.font = `24px ${FONT}`;
    ctx.fillText('Equilibrium Temperature (K)', 0, 0);
    ctx.restore();

    ctx.restore();
  },
};

export default function App() {
  const canvasRef = useRef<HTMLCanvasElement>(null);

  useEffect(() => {
    const canvas = canvasRef.current;
    if (!canvas) return;
    const orange = [
      ...giantsUpper, ...giantsCore, ...giantsFill, ...giantsSide,
      ...warmPlanets, ...smallUpper, ...smallBand, ...bandFill,
    ];
    const smallPt = { pointRadius: 1.8, pointBorderWidth: 0, pointHoverRadius: 1.8 };
    const greenPt = { pointRadius: 2.0, pointBorderWidth: 0, pointHoverRadius: 2.0 };
    const chart = new Chart(canvas, {
      type: 'scatter',
      data: {
        datasets: [
          {
            label: 'planets',
            data: planetA.map((a, i) => ({ x: a, y: planetR[i] })),
            pointRadius: 7,
            pointHoverRadius: 7,
            pointBorderWidth: 1,
            pointBorderColor: '#000',
            pointBackgroundColor: planetTeq.map(teqColor),
          },
          {
            label: 'Jupiter',
            data: [{ x: 1, y: jupiterRadius }, { x: 1000, y: jupiterRadius }],
            showLine: true,
            pointRadius: 0,
            borderColor: '#800080',
            borderWidth: 2.6,
            borderDash: [10, 4.3],
          },
          {
            label: 'Earth',
            data: [{ x: 1, y: earthRadius }, { x: 1000, y: earthRadius }],
            showLine: true,
            pointRadius: 0,
            borderColor: '#008000',
            borderWidth: 2.6,
            borderDash: [10, 4.3],
          },
          { label: 'teal', data: toXY(tealPlanets), pointBackgroundColor: 'rgba(38,176,154,0.75)', ...greenPt },
          { label: 'mid', data: toXY(midGreenPlanets), pointBackgroundColor: 'rgba(110,180,110,0.85)', ...greenPt },
          { label: 'olive', data: toXY(olivePlanets), pointBackgroundColor: 'rgba(150,184,72,0.9)', ...greenPt },
          { label: 'known', data: toXY(orange), pointBackgroundColor: 'rgba(255,165,0,0.92)', ...smallPt },
        ],
      },
      options: {
        animation: false,
        responsive: false,
        devicePixelRatio: 1,
        layout: { padding: { left: 88, right: 103, top: 14, bottom: 53 } },
        plugins: { legend: { display: false }, tooltip: { enabled: false } },
        events: [],
        scales: {
          x: { type: 'logarithmic', min: 1, max: 1000, display: false },
          y: { type: 'linear', min: -0.1, max: 2.0, display: false },
        },
      },
      plugins: [decorPlugin],
    } as any);
    return () => chart.destroy();
  }, []);

  return (
    <div style={{ position: 'absolute', left: 0, top: 0, width: 644, height: 441, background: '#fff' }}>
      <canvas ref={canvasRef} width={644} height={441} style={{ display: 'block', width: 644, height: 441 }} />
    </div>
  );
}
